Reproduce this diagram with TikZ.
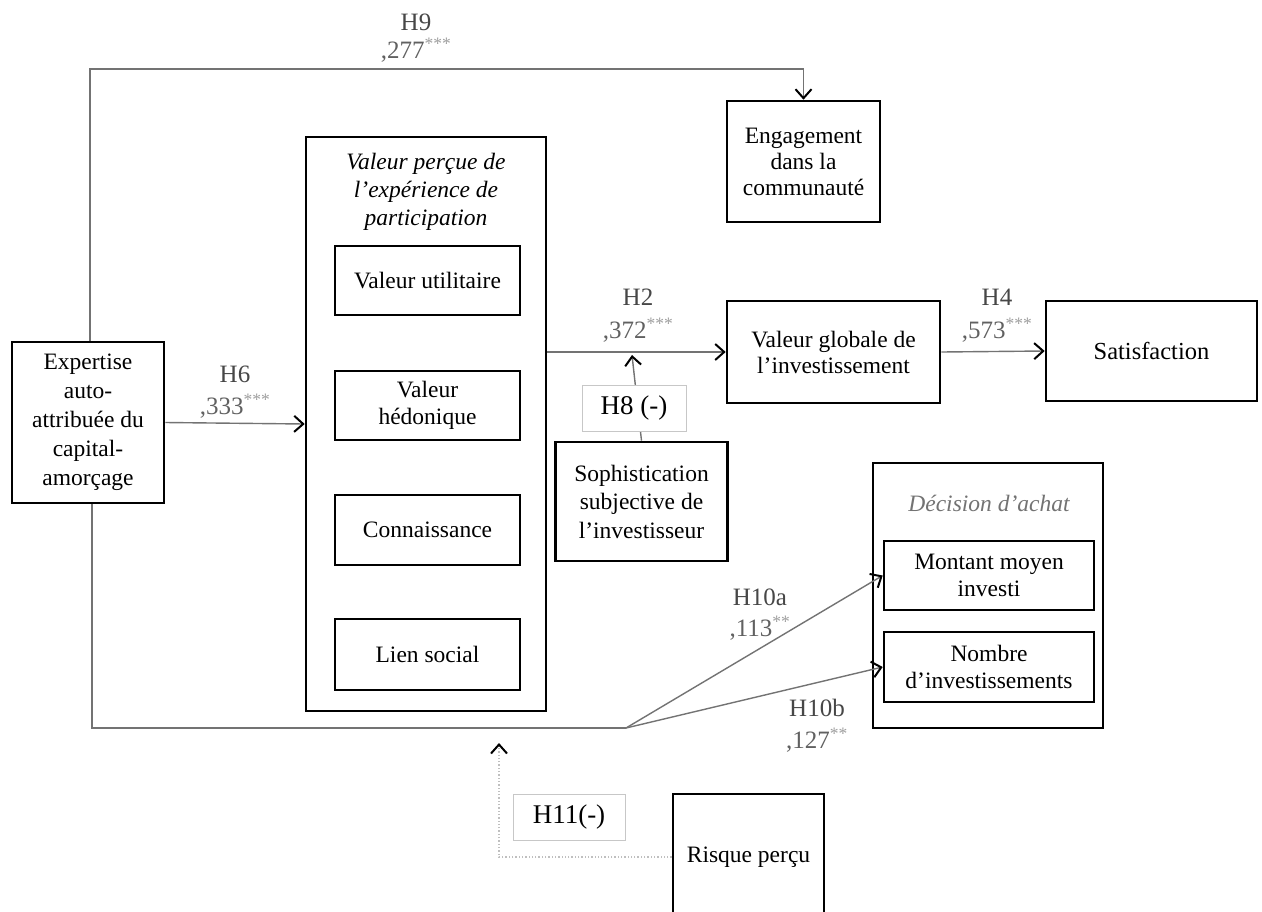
\documentclass[tikz,border=0pt]{standalone}
\usepackage{fontspec}
\setmainfont{Liberation Serif}
\usetikzlibrary{arrows.meta}
\tikzset{
  bx/.style={draw=black, line width=2.6pt, rectangle, inner sep=0pt, align=center,
    font=\fontsize{23.5}{27}\selectfont, fill=white},
  lab/.style={draw=black!22, line width=0.9pt, rectangle, inner sep=0pt, align=center,
    font=\fontsize{27}{32}\selectfont, fill=white},
  conn/.style={draw=black!55, line width=1.4pt},
  arr/.style={conn, -{Straight Barb[length=9pt, width=16pt, line width=2pt, color=black]}},
  hname/.style={text=black!72, font=\fontsize{25}{28}\selectfont, inner sep=0pt},
  hval/.style={text=black!62, font=\fontsize{25}{28}\selectfont, inner sep=0pt},
  ttl/.style={font=\fontsize{23.5}{28}\selectfont\itshape, align=center, inner sep=0pt},
}
\newcommand{\stars}[1]{\textsuperscript{\textcolor{black!38}{#1}}}
\begin{document}
\begin{tikzpicture}[x=1pt, y=-1pt]
\useasboundingbox (0,0) rectangle (1262,911);
% boxes
\node[bx, minimum width=152, minimum height=161, font=\fontsize{23.5}{29}\selectfont] (exp) at (88,422.5) {Expertise\\auto-\\attribuée du\\capital-\\amorçage};
\node[bx, minimum width=240, minimum height=574] (val) at (426,424) {};
\node[ttl] (valt) at (426,192) {Valeur perçue de\\l’expérience de\\participation};
\node[bx, minimum width=185, minimum height=69] (vu) at (427.5,280.5) {Valeur utilitaire};
\node[bx, minimum width=185, minimum height=69] (vh) at (427.5,405.5) {Valeur\\hédonique};
\node[bx, minimum width=185, minimum height=70] (co) at (427.5,530) {Connaissance};
\node[bx, minimum width=185, minimum height=71] (ls) at (427.5,654.5) {Lien social};
\node[bx, minimum width=153, minimum height=121, font=\fontsize{23.5}{26}\selectfont] (eng) at (803.5,161.5) {Engagement\\dans la\\communauté};
\node[bx, minimum width=213, minimum height=102, font=\fontsize{23.5}{26}\selectfont] (vg) at (833.5,352) {Valeur globale de\\l’investissement};
\node[bx, minimum width=211, minimum height=100, font=\fontsize{24.5}{28}\selectfont] (sat) at (1151.5,351) {Satisfaction};
\node[bx, minimum width=172, minimum height=119, font=\fontsize{23.5}{28.5}\selectfont] (soph) at (641.5,501.5) {Sophistication\\subjective de\\l’investisseur};
\node[bx, minimum width=230, minimum height=265, line width=2.2pt] (dec) at (988,595.5) {};
\node[ttl, text=black!55] (dect) at (989,503) {Décision d’achat};
\node[bx, minimum width=210, minimum height=69] (mon) at (989,575.5) {Montant moyen\\investi};
\node[bx, minimum width=210, minimum height=70] (nom) at (989,667) {Nombre\\d’investissements};
\node[bx, minimum width=151, minimum height=126] (ris) at (748.5,857) {Risque perçu};
% connectors
\coordinate (h9c) at (90,69);
\draw[arr] (exp.north -| h9c) -- (h9c) -| (eng.north);
\draw[arr] (exp.east) -- (val.west);
\draw[arr] (val.east |- vg.west) -- (vg.west);
\draw[arr] (vg.east) -- (sat.west);
\coordinate (h8tip) at (632,355);
\draw[arr] (soph.north) -- (h8tip);
\node[lab, minimum width=104, minimum height=46] (h8) at (634,408) {H8 (-)};
\coordinate (bl) at (92,728);
\coordinate (jn) at (626,728);
\draw[conn] (bl |- exp.south) -- (bl) -- (jn);
\draw[arr] (jn) -- (mon.west);
\draw[arr] (jn) -- (nom.west);
\coordinate (h11tip) at (499,743);
\draw[draw=black!25, line width=1.3pt, dotted, -{Straight Barb[length=9pt, width=16pt, line width=2pt, color=black]}] (ris.west) -| (h11tip);
\node[lab, minimum width=112, minimum height=46] (h11) at (569,817) {H11(-)};
% labels
\node[hname] (l9a) at (416,22) {H9};
\node[hval] (l9b) at (416,50) {,277\stars{***}};
\node[hname] (l6a) at (235,374) {H6};
\node[hval] (l6b) at (235,406) {,333\stars{***}};
\node[hname] (l2a) at (638,297) {H2};
\node[hval] (l2b) at (638,330) {,372\stars{***}};
\node[hname] (l4a) at (997,297) {H4};
\node[hval] (l4b) at (997,330) {,573\stars{***}};
\node[hname] (l10a) at (760,597) {H10a};
\node[hval] (l10b) at (760,628) {,113\stars{**}};
\node[hname] (l10c) at (817,708) {H10b};
\node[hval] (l10d) at (817,740) {,127\stars{**}};
\end{tikzpicture}
\end{document}
